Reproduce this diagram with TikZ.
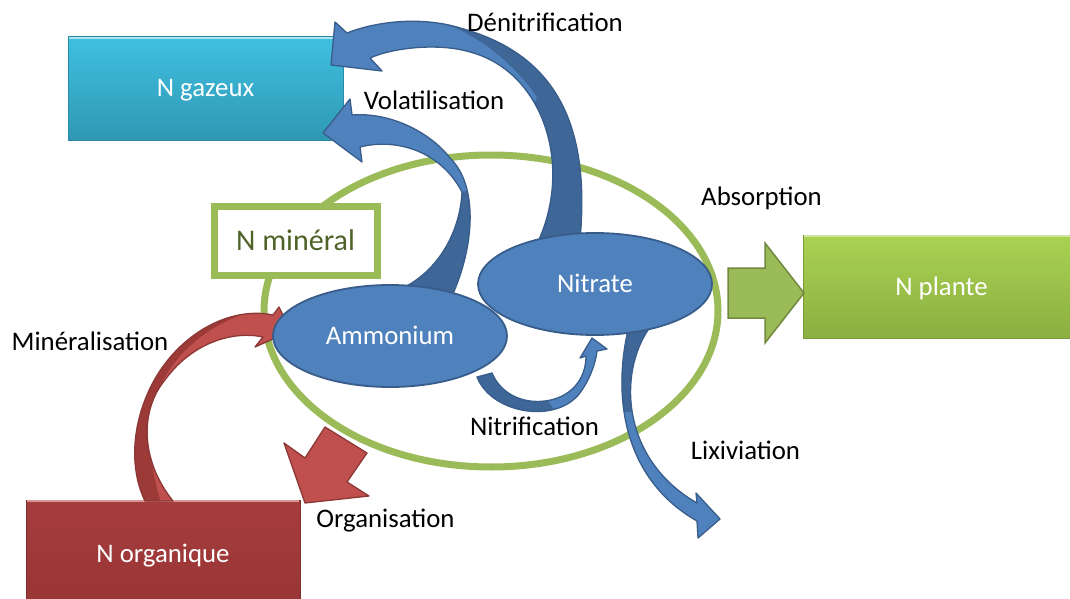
\documentclass[tikz,border=0pt]{standalone}
\usepackage{fontspec}
\setmainfont{Carlito}
\usetikzlibrary{shapes.geometric,shadings}
\definecolor{bfill}{HTML}{4F81BD}
\definecolor{bline}{HTML}{385D8A}
\definecolor{bdark}{HTML}{3E6696}
\definecolor{rfill}{HTML}{C0504D}
\definecolor{rline}{HTML}{8C3836}
\definecolor{rdark}{HTML}{9C3A38}
\definecolor{gfill}{HTML}{9BBB59}
\definecolor{gline}{HTML}{71893F}
\definecolor{gtext}{HTML}{4F6228}
\definecolor{cyantop}{HTML}{3FC0E0}
\definecolor{cyanbot}{HTML}{2F98B4}
\definecolor{cyanline}{HTML}{2A8AA4}
\definecolor{planttop}{HTML}{AAD253}
\definecolor{plantbot}{HTML}{8BAF40}
\definecolor{plantline}{HTML}{7A9A36}
\definecolor{orgtop}{HTML}{A63D3D}
\definecolor{orgbot}{HTML}{993535}
\definecolor{orgline}{HTML}{7E2D2D}
\newcommand\myfont{\fontsize{26.8pt}{30pt}\selectfont}
\newcommand\bigfont{\fontsize{30pt}{34pt}\selectfont}
% arrow outlines
\def\denpath{(580,240) .. controls (590,130) and (560,55) .. (460,28) .. controls (425,17) and (380,20) .. (347,33) -- (335,22) -- (331,65) -- (382,71) -- (370,58) .. controls (395,47) and (440,43) .. (470,52) .. controls (545,72) and (575,170) .. (535,248) -- cycle}
\def\volpath{(452,296) .. controls (475,245) and (478,185) .. (450,158) .. controls (430,132) and (390,112) .. (352,115) -- (350,99) -- (323,133) -- (362,162) -- (360,147) .. controls (395,138) and (440,150) .. (462,192) .. controls (460,235) and (435,275) .. (398,290) -- cycle}
\def\minpath{(273,315) .. controls (225,305) and (170,340) .. (147,395) .. controls (132,430) and (130,470) .. (145,501) -- (173,501) .. controls (140,460) and (140,410) .. (165,380) .. controls (190,345) and (230,330) .. (263,337) -- (255,347) -- (291,331) -- (279,307) -- cycle}
\def\lixpath{(628,330) .. controls (612,400) and (625,480) .. (697,521) -- (698,538) -- (720,519) -- (696,493) -- (697,503) .. controls (622,460) and (618,375) .. (648,330) -- cycle}
\def\nitpath{(477,377) .. controls (492,415) and (560,425) .. (582,390) .. controls (592,375) and (596,360) .. (597,351) -- (607,349) -- (592,338) -- (580,358) -- (586,356) .. controls (586,380) and (570,398) .. (545,401) .. controls (520,404) and (500,392) .. (492,373) -- cycle}
\begin{document}
\begin{tikzpicture}[x=1pt,y=-1pt,
  lbl/.style={font=\myfont, inner sep=0pt, anchor=base, text=black},
  boxnode/.style={rectangle, font=\myfont, text=white, inner sep=0pt, text height=17pt, text depth=0pt, line width=1pt},
  blob/.style={ellipse, fill=bfill, draw=bline, line width=1.8pt, minimum width=234pt, minimum height=102pt, inner sep=0pt, font=\myfont, text=white, text height=17pt, text depth=0pt},
  bedge/.style={draw=bline, line width=1.3pt, line join=round},
  redge/.style={draw=rline, line width=1.3pt, line join=round}]
\useasboundingbox (0,0) rectangle (1070,599);
\fill[white] (0,0) rectangle (1070,599);

% boxes
\node[boxnode, minimum width=275pt, minimum height=103pt, top color=cyantop, bottom color=cyanbot, draw=cyanline] (gaz) at (205.5,88.5) {N gazeux};
\draw[white!55!cyantop, line width=1.5pt] ([shift={(1.5pt,-1.5pt)}]gaz.north west) -- ([shift={(-1.5pt,-1.5pt)}]gaz.north east);
\node[boxnode, minimum width=277pt, minimum height=103pt, top color=planttop, bottom color=plantbot, draw=plantline] (plante) at (941.5,286.5) {N plante};
\draw[white!45!planttop, line width=1.5pt] ([shift={(1.5pt,-1.5pt)}]plante.north west) -- ([shift={(-1.5pt,-1.5pt)}]plante.north east);
\node[boxnode, minimum width=274pt, minimum height=107pt, top color=orgtop, bottom color=orgbot, draw=orgline] (org) at (163,553.5) {N organique};
\draw[white!40!rfill, line width=1.5pt] ([shift={(1.5pt,-1.5pt)}]org.north west) -- ([shift={(-1.5pt,-1.5pt)}]org.north east);

% mineral pool
\draw[gfill, line width=7pt] (491,311) ellipse [x radius=227pt, y radius=156pt];
\node[rectangle, draw=gfill, line width=7pt, fill=white, minimum width=163pt, minimum height=69pt, inner sep=0pt, font=\bigfont, text=gtext, text height=19.3pt, text depth=0pt] (mineral) at (295.5,240.5) {N minéral};

% Denitrification arrow
\fill[bfill] \denpath;
\begin{scope}
\clip \denpath;
\fill[bdark] (440,22) .. controls (480,35) and (515,65) .. (537,97) -- (520,140) -- (520,260) -- (620,260) -- (620,0) -- (440,0) -- cycle;
\end{scope}
\path[bedge] \denpath;

% Volatilisation arrow
\fill[bfill] \volpath;
\begin{scope}
\clip \volpath;
\fill[bdark] (462,192) .. controls (460,235) and (435,275) .. (398,290) -- (398,310) -- (490,310) -- (490,185) -- cycle;
\end{scope}
\path[bedge] \volpath;

% Mineralisation arrow
\fill[rfill] \minpath;
\begin{scope}
\clip \minpath;
\fill[rdark] (250,312) .. controls (190,330) and (150,380) .. (150,430) .. controls (150,460) and (155,485) .. (162,505) -- (100,505) -- (100,300) -- cycle;
\end{scope}
\path[redge] \minpath;

% Organisation arrow
\path[fill=rfill, redge] (325,427) -- (367,453) -- (347,482) -- (369,496) -- (305,503) -- (284,443) -- (305,458) -- cycle;

% Lixiviation arrow
\fill[bfill] \lixpath;
\begin{scope}
\clip \lixpath;
\fill[bdark] (600,320) rectangle (660,412);
\end{scope}
\path[bedge] \lixpath;

% Nitrification arrow
\fill[bfill] \nitpath;
\begin{scope}
\clip \nitpath;
\fill[bdark] (470,360) -- (545,395) -- (560,420) -- (470,420) -- cycle;
\end{scope}
\path[bedge] \nitpath;

% Absorption arrow
\path[fill=gfill, draw=gline, line width=1.5pt, line join=miter] (728,268) -- (765,268) -- (765,243) -- (804,293) -- (765,343) -- (765,318) -- (728,318) -- cycle;

% pools
\node[blob] (nitrate) at (595,284) {Nitrate};
\node[blob] (ammonium) at (390,336) {Ammonium};

% labels
\node[lbl] (ldenit) at (545,32) {Dénitrification};
\node[lbl] (lvol) at (434,110) {Volatilisation};
\node[lbl] (labs) at (761.5,205) {Absorption};
\node[lbl] (lmin) at (90,350) {Minéralisation};
\node[lbl] (lnit) at (534.5,435) {Nitrification};
\node[lbl] (llix) at (745.5,459) {Lixiviation};
\node[lbl] (lorg) at (385.5,527) {Organisation};
\end{tikzpicture}
\end{document}
